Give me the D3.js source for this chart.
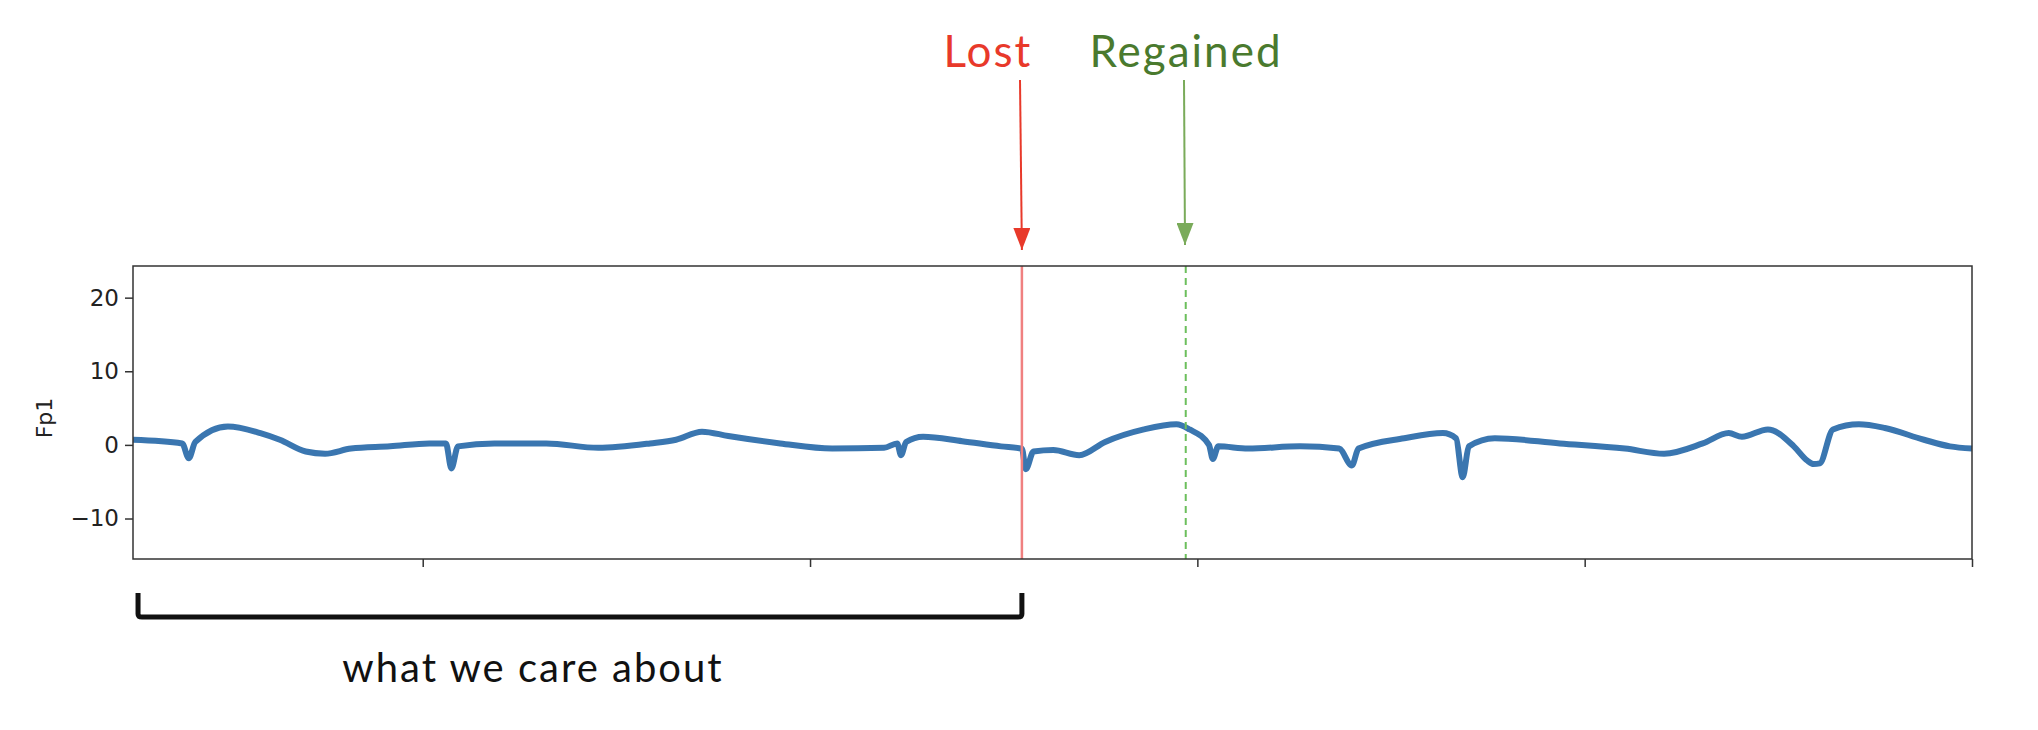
<!DOCTYPE html>
<html><head><meta charset="utf-8">
<script src="https://cdn.jsdelivr.net/npm/d3@7"></script>
<style>body{margin:0;background:#fff}</style></head>
<body><svg id="c" width="2038" height="730"></svg>
<script>
const tValues=[0.252,0.379,0.396,0.413,0.497,0.581,0.631,0.698,0.748,0.815,0.916,1.017,1.060,1.074,1.091,1.185,1.319,1.453,1.587,1.654,1.721,1.789,1.923,2.057,2.191,2.225,2.235,2.248,2.292,2.393,2.493,2.547,2.557,2.577,2.628,2.695,2.762,2.862,2.946,2.980,3.030,3.040,3.054,3.131,3.265,3.366,3.399,3.416,3.534,3.634,3.668,3.685,3.701,3.768,3.936,4.104,4.205,4.305,4.372,4.406,4.473,4.540,4.574,4.591,4.607,4.641,4.708,4.775,4.876,4.943,5.0];
const fp1Values=[0.7,0.2,-1.8,0.4,2.5,1.6,0.7,-0.9,-1.2,-0.5,-0.2,0.2,0.2,-3.2,-0.2,0.2,0.2,-0.4,0.2,0.7,1.8,1.2,0.2,-0.5,-0.4,0.2,-1.4,0.4,1.1,0.5,-0.2,-0.5,-3.3,-0.9,-0.7,-1.4,0.4,2.1,2.8,2.1,0,-1.9,-0.2,-0.5,-0.2,-0.5,-2.8,-0.5,0.9,1.6,0.9,-4.4,-0.2,0.9,0.2,-0.5,-1.2,0.2,1.6,1.1,2.1,-0.2,-2.1,-2.6,-2.5,2.1,2.8,2.3,0.7,-0.2,-0.5];
const yTicks=[-10,0,10,20];
const xTicks=[1,2,3,4,5];
const lostT=2.547, regainedT=2.97, careStart=0.265, careEnd=2.547;
const labels={y:"Fp1",lost:"Lost",regained:"Regained",care:"what we care about"};

const svg=d3.select("#c");
const L=133,R=1972,T=266,B=559;
const x=d3.scaleLinear().domain([0.252,5]).range([L,R]);
const y=d3.scaleLinear().domain([-15.5,24.3]).range([B,T]);
const data=tValues.map((t,i)=>[t,fp1Values[i]]);

svg.append("defs").html(`
<marker id="ar" viewBox="0 0 10 10" refX="5" refY="10" markerWidth="17" markerHeight="22" markerUnits="userSpaceOnUse" preserveAspectRatio="none"><path d="M0,0L10,0L5,10z" fill="#e8392a"/></marker>
<marker id="ag" viewBox="0 0 10 10" refX="5" refY="10" markerWidth="17" markerHeight="22" markerUnits="userSpaceOnUse" preserveAspectRatio="none"><path d="M0,0L10,0L5,10z" fill="#7aab5a"/></marker>`);

const g=svg.append("g");
g.append("path").datum(data).attr("fill","none").attr("stroke","#3a76b0").attr("stroke-width",6)
 .attr("stroke-linejoin","round").attr("d",d3.line().curve(d3.curveMonotoneX).x(d=>x(d[0])).y(d=>y(d[1])));
g.append("line").attr("x1",x(lostT)).attr("x2",x(lostT)).attr("y1",T).attr("y2",B).attr("stroke","#f08080").attr("stroke-width",2.5);
g.append("line").attr("x1",x(regainedT)).attr("x2",x(regainedT)).attr("y1",T).attr("y2",B).attr("stroke","#6cbf5c").attr("stroke-width",2).attr("stroke-dasharray","7,5");
g.append("rect").attr("x",L).attr("y",T).attr("width",R-L).attr("height",B-T).attr("fill","none").attr("stroke","#333").attr("stroke-width",1.5);

const ya=svg.append("g").attr("transform",`translate(${L},0)`).call(d3.axisLeft(y).tickValues(yTicks).tickSize(8).tickPadding(6).tickFormat(d=>d<0?"\u2212"+Math.abs(d):d));
ya.select(".domain").remove();
ya.selectAll("text").attr("font-family","DejaVu Sans").attr("font-size",23).attr("fill","#222");
ya.selectAll("line").attr("stroke","#333").attr("stroke-width",1.5);
const xa=svg.append("g").attr("transform",`translate(0,${B})`).call(d3.axisBottom(x).tickValues(xTicks).tickSize(8).tickFormat(""));
xa.select(".domain").remove();
xa.selectAll("line").attr("stroke","#333").attr("stroke-width",1.5);

svg.append("text").attr("transform","translate(52,418) rotate(-90)").attr("text-anchor","middle")
 .attr("font-family","DejaVu Sans").attr("font-size",22).attr("fill","#222").text(labels.y);

const ff="Lato, 'Open Sans', sans-serif";
svg.append("text").attr("x",988).attr("y",67).attr("text-anchor","middle").attr("font-family",ff).attr("font-size",44).attr("letter-spacing",2).attr("fill","#e8392a").text(labels.lost);
svg.append("text").attr("x",1186).attr("y",67).attr("text-anchor","middle").attr("font-family",ff).attr("font-size",44).attr("letter-spacing",2).attr("fill","#4a7a2e").text(labels.regained);
svg.append("line").attr("x1",1020).attr("y1",80).attr("x2",x(lostT)).attr("y2",250).attr("stroke","#e8392a").attr("stroke-width",2).attr("marker-end","url(#ar)");
svg.append("line").attr("x1",1184).attr("y1",80).attr("x2",1185).attr("y2",245).attr("stroke","#7aab5a").attr("stroke-width",2).attr("marker-end","url(#ag)");

const bx0=x(careStart),bx1=x(careEnd);
svg.append("path").attr("d",`M${bx0},593 L${bx0},614 Q${bx0},617 ${bx0+4},617 L${bx1-4},617 Q${bx1},617 ${bx1},614 L${bx1},593`)
 .attr("fill","none").attr("stroke","#111").attr("stroke-width",5);
svg.append("text").attr("x",533).attr("y",682).attr("text-anchor","middle").attr("font-family",ff).attr("font-size",40).attr("letter-spacing",2).attr("fill","#111").text(labels.care);
</script></body></html>
